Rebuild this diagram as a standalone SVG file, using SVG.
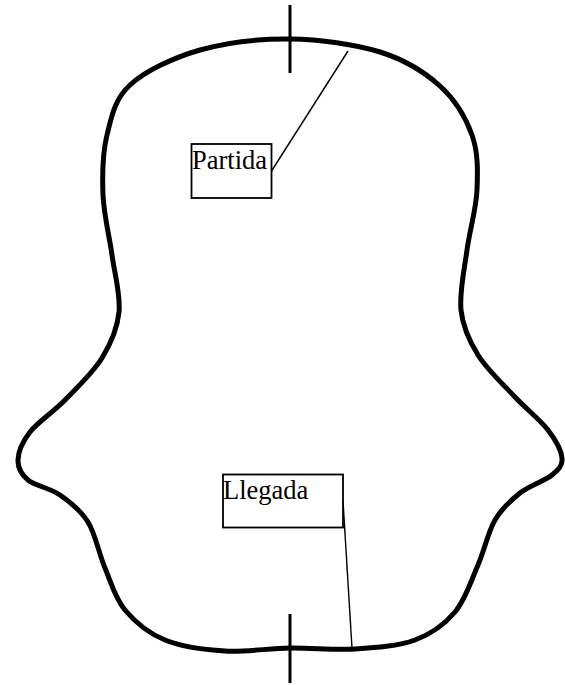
<svg xmlns="http://www.w3.org/2000/svg" width="565" height="685" viewBox="0 0 565 685">
<style>
.outline{fill:none;stroke:#000;stroke-width:5;stroke-linejoin:round}
.tick{stroke:#000;stroke-width:3;fill:none}
.box{fill:#fff;stroke:#000;stroke-width:1.8}
.lbl{font-family:"Liberation Serif","Times New Roman",serif;font-size:26.5px;fill:#000}
.lead{stroke:#000;stroke-width:1.4;fill:none}
</style>
<rect width="565" height="685" fill="#fff"/>
<g id="contour">
<path class="outline" d="M290,39 C320,39.3 355,44.2 380,52 C405,59.8 424.7,72.2 440,86 C455.3,99.8 465.8,117.7 472,135 C478.2,152.3 477.8,170.8 477,190 C476.2,209.2 469.7,230 467,250 C464.3,270 459.2,292.5 461,310 C462.8,327.5 469,340.5 478,355 C487,369.5 503.3,384.5 515,397 C526.7,409.5 540.2,419.8 548,430 C555.8,440.2 561.3,450.5 562,458 C562.7,465.5 559,469.2 552,475 C545,480.8 529.5,485.5 520,493 C510.5,500.5 502,508 495,520 C488,532 484.7,549.7 478,565 C471.3,580.3 465.5,599.5 455,612 C444.5,624.5 431.7,633.8 415,640 C398.3,646.2 375.8,647.7 355,649 C334.2,650.3 311.7,647.7 290,648 C268.3,648.3 245.8,652.3 225,651 C204.2,649.7 181.7,646.8 165,640 C148.3,633.2 135,622 125,610 C115,598 111.2,582.7 105,568 C98.8,553.3 95.5,534.2 88,522 C80.5,509.8 70,502 60,495 C50,488 35,485.8 28,480 C21,474.2 17.7,468 18,460 C18.3,452 22.2,442 30,432 C37.8,422 53,412.3 65,400 C77,387.7 93,372.7 102,358 C111,343.3 117.3,329.2 119,312 C120.7,294.8 114.7,274.5 112,255 C109.3,235.5 103.8,215 103,195 C102.2,175 102.5,153.3 107,135 C111.5,116.7 114.5,99.2 130,85 C145.5,70.8 173.3,57.7 200,50 C226.7,42.3 260,38.7 290,39 Z"/>
</g>
<g id="ticks">
<line class="tick" x1="290" y1="5" x2="290" y2="73"/>
<line class="tick" x1="290" y1="614" x2="290" y2="683"/>
</g>
<g id="connectors">
<line class="lead" x1="271.5" y1="171" x2="348" y2="51"/>
<line class="lead" x1="343" y1="501" x2="352" y2="648"/>
</g>
<g id="partida">
<rect class="box" x="191.5" y="144" width="80" height="54"/>
<text class="lbl" x="192" y="169">Partida</text>
</g>
<g id="llegada">
<rect class="box" x="223" y="474.5" width="120" height="53"/>
<text class="lbl" x="223" y="499">Llegada</text>
</g>
</svg>
